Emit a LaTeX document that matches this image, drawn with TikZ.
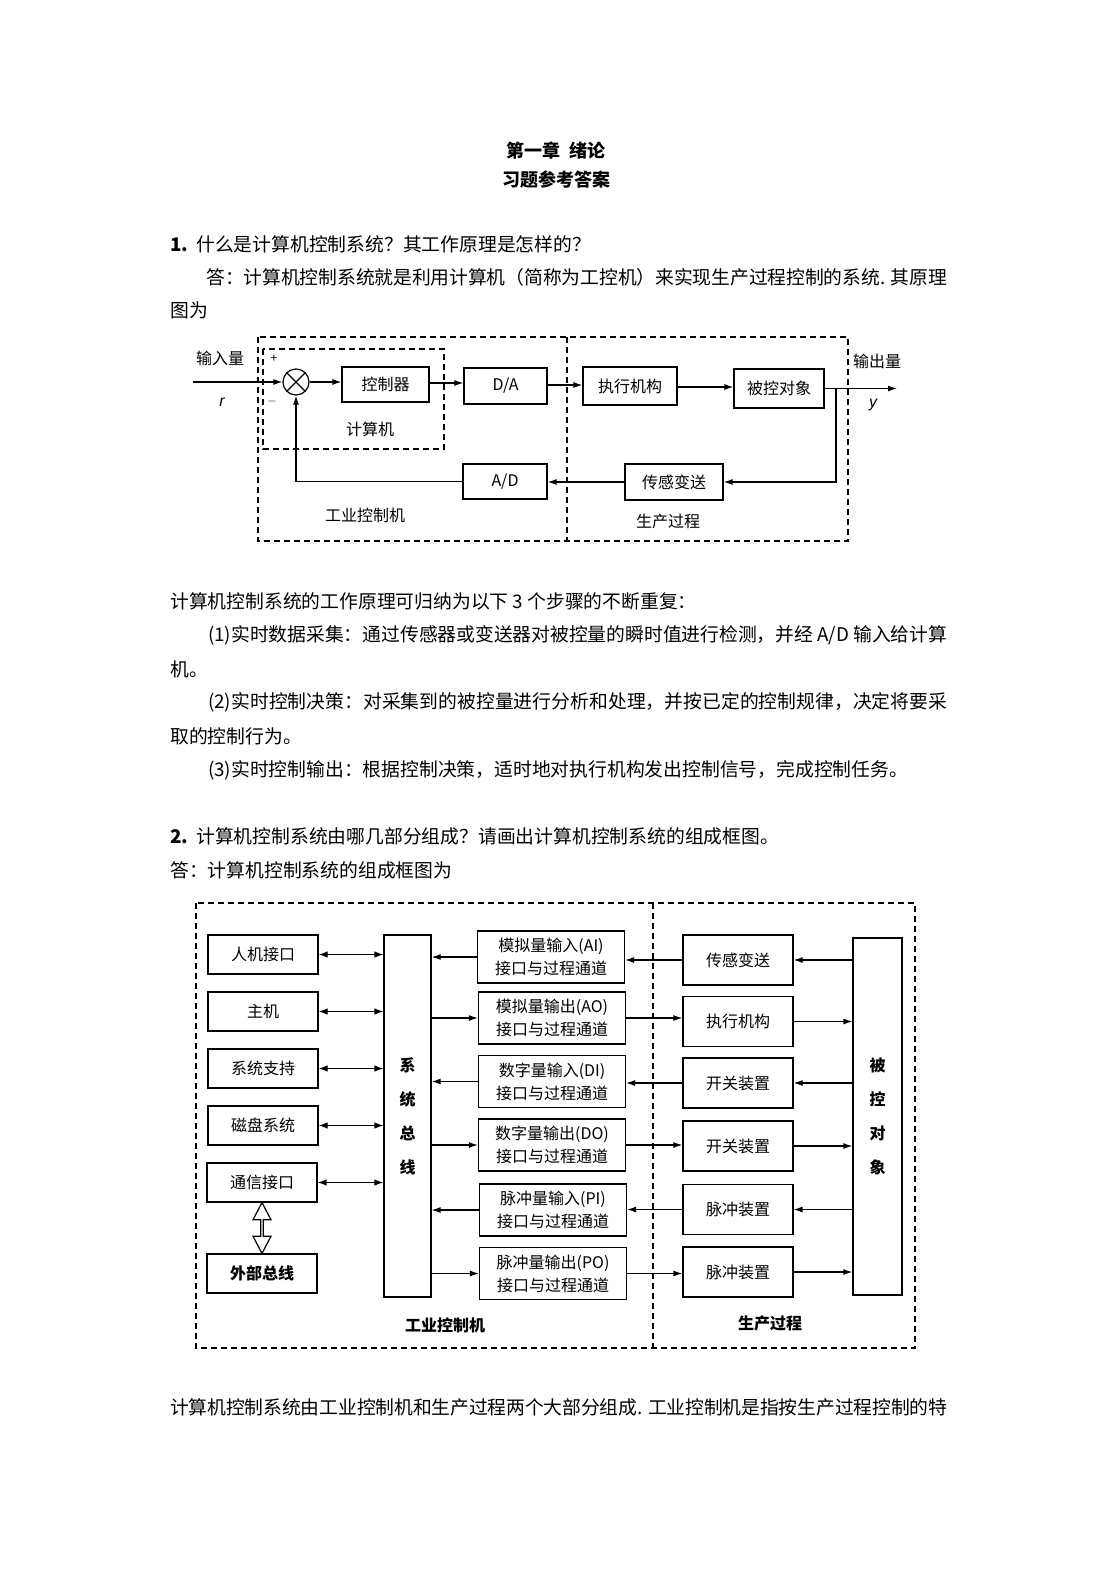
\documentclass[tikz,border=0pt]{standalone}
\usepackage{fontspec}
\setmainfont{Noto Sans CJK SC}
\newfontfamily\lat{Liberation Sans}
\usetikzlibrary{arrows.meta,shapes.arrows,calc}
\XeTeXlinebreaklocale "zh"
\XeTeXlinebreakskip=0pt plus 3pt minus 1pt
\tikzset{
 ln/.style={line width=1.2pt},
 arr/.style={ln, -{Latex[length=9pt,width=6pt]}},
 darr/.style={ln, {Latex[length=9pt,width=6.5pt]}-{Latex[length=9pt,width=6.5pt]}},
 dsh/.style={line width=1.2pt, dash pattern=on 6pt off 4pt},
 blk/.style={draw, line width=1.2pt, inner sep=0pt, font=\fontsize{16}{23}\selectfont, align=center},
 lbl/.style={inner sep=0pt, font=\fontsize{16}{19}\selectfont},
 blbl/.style={inner sep=0pt, font=\bfseries\fontsize{16}{19}\selectfont},
 body/.style={anchor=west, inner sep=0pt, font=\fontsize{18.8}{22}\selectfont},
 jbody/.style={body, text width=#1, align=justify},
}
\newcommand\jtxt[1]{\noindent\parfillskip=0pt\relax #1\par}
\begin{document}
\begin{tikzpicture}[x=1pt,y=-1pt]
\fill[white] (0,0) rectangle (1116,1579);
\path[use as bounding box] (0,0) rectangle (1116,1579);

% ---- headings and text ----
\node[inner sep=0pt, font=\bfseries\fontsize{18}{22}\selectfont] (t1) at (556,151) {第一章\hspace{0.5em}绪论};
\node[inner sep=0pt, font=\bfseries\fontsize{18}{22}\selectfont] (t2) at (556,180) {习题参考答案};
\node[body] (q1) at (170,244) {\textbf{1.}\hspace{8pt}什么是计算机控制系统？其工作原理是怎样的？};
\node[jbody=741pt] (a1) at (206,277) {\jtxt{答：计算机控制系统就是利用计算机（简称为工控机）来实现生产过程控制的系统. 其原理}};
\node[body] (a1b) at (170,310) {图为};
\node[body] (p0) at (170,601) {计算机控制系统的工作原理可归纳为以下 3 个步骤的不断重复：};
\node[jbody=739pt] (p1) at (208,635) {\jtxt{(1)实时数据采集：通过传感器或变送器对被控量的瞬时值进行检测，并经 A/D 输入给计算}};
\node[body] (p1b) at (170,669) {机。};
\node[jbody=739pt] (p2) at (208,702) {\jtxt{(2)实时控制决策：对采集到的被控量进行分析和处理，并按已定的控制规律，决定将要采}};
\node[body] (p2b) at (170,736) {取的控制行为。};
\node[body] (p3) at (208,770) {(3)实时控制输出：根据控制决策，适时地对执行机构发出控制信号，完成控制任务。};
\node[body] (q2) at (170,836) {\textbf{2.}\hspace{8pt}计算机控制系统由哪几部分组成？请画出计算机控制系统的组成框图。};
\node[body] (a2) at (170,870) {答：计算机控制系统的组成框图为};
\node[jbody=777pt] (last) at (170,1407) {\jtxt{计算机控制系统由工业控制机和生产过程两个大部分组成. 工业控制机是指按生产过程控制的特}};

% ---- diagram 1 ----
\draw[dsh] (258,337) rectangle (848,541);
\draw[dsh] (263,349) rectangle (444,449);
\draw[dsh] (567,337) -- (567,541);

\node[draw, circle, ln, minimum size=26pt, inner sep=0pt] (sum) at (296,382) {};
\draw[ln] (sum.45) -- (sum.225) (sum.135) -- (sum.-45);
\node[blk, minimum width=87pt, minimum height=35pt] (ctrl) at (385.5,384.5) {控制器};
\node[blk, minimum width=83pt, minimum height=36pt] (da) at (505.5,386) {D/A};
\node[blk, minimum width=94pt, minimum height=38pt] (act) at (630,386) {执行机构};
\node[blk, minimum width=90pt, minimum height=39pt] (plant) at (779,388.5) {被控对象};
\node[blk, minimum width=98pt, minimum height=36pt] (sens) at (674,482) {传感变送};
\node[blk, minimum width=84pt, minimum height=35pt] (ad) at (505,481.5) {A/D};

\coordinate (in) at (193,382);
\coordinate (out) at (897,388.5);
\coordinate (fb) at (836,388.5);
\draw[arr] (in) -- (sum.west);
\draw[arr] (sum.east) -- (sum.east -| ctrl.west);
\draw[arr] (ctrl.east |- 0,383) -- (da.west |- 0,383);
\draw[arr] (da.east |- 0,385) -- (act.west |- 0,385);
\draw[arr] (act.east |- 0,387) -- (plant.west |- 0,387);
\draw[arr] (plant.east) -- (out);
\draw[arr] (fb) |- (sens.east);
\draw[arr] (sens.west) -- (sens.west -| ad.east);
\draw[arr] (ad.west) -| (sum.south);

\node[lbl] (inlbl) at (220,358) {输入量};
\node[inner sep=0pt, font=\lat\itshape\fontsize{16}{19}\selectfont] (rlbl) at (222,402) {r};
\node[inner sep=0pt, font=\fontsize{12}{14}\selectfont] (plus) at (274,359) {+};
\node[inner sep=0pt, font=\fontsize{12}{14}\selectfont] (minus) at (272,401) {$-$};
\node[lbl] (outlbl) at (877,361) {输出量};
\node[inner sep=0pt, font=\lat\itshape\fontsize{16}{19}\selectfont] (ylbl) at (873,405) {y};
\node[lbl] (complbl) at (370,429) {计算机};
\node[lbl] (ipclbl) at (365,515) {工业控制机};
\node[lbl] (proclbl) at (668,521) {生产过程};

% ---- diagram 2 ----
\draw[dsh] (196,903) rectangle (915,1348);
\draw[dsh] (653,903) -- (653,1348);

\node[blk, minimum width=110pt, minimum height=39pt] (l1) at (263,954.5) {人机接口};
\node[blk, minimum width=110pt, minimum height=39pt] (l2) at (263,1011.5) {主机};
\node[blk, minimum width=110pt, minimum height=39pt] (l3) at (263,1068.5) {系统支持};
\node[blk, minimum width=110pt, minimum height=39pt] (l4) at (263,1125.5) {磁盘系统};
\node[blk, minimum width=110pt, minimum height=39pt] (l5) at (262,1182.5) {通信接口};
\node[blk, minimum width=110pt, minimum height=39pt, font=\bfseries\fontsize{16}{19}\selectfont] (ext) at (262,1273.5) {外部总线};
\node[draw, ln, double arrow, rotate=90, inner sep=0pt, minimum height=51pt, minimum width=18pt,
      double arrow head extend=4pt, double arrow tip angle=55] (dbl) at ($(l5.south)!0.5!(ext.north)$) {};

\node[blk, minimum width=47pt, minimum height=362pt, font=\bfseries\fontsize{16}{34}\selectfont] (bus) at (407.5,1116) {系\\统\\总\\线};

\node[blk, minimum width=147pt, minimum height=52pt] (i1) at (551,957) {模拟量输入(AI)\\接口与过程通道};
\node[blk, minimum width=147pt, minimum height=52pt] (i2) at (552,1018) {模拟量输出(AO)\\接口与过程通道};
\node[blk, minimum width=147pt, minimum height=52pt] (i3) at (552,1081.5) {数字量输入(DI)\\接口与过程通道};
\node[blk, minimum width=147pt, minimum height=52pt] (i4) at (552,1145) {数字量输出(DO)\\接口与过程通道};
\node[blk, minimum width=147pt, minimum height=52pt] (i5) at (553,1210) {脉冲量输入(PI)\\接口与过程通道};
\node[blk, minimum width=147pt, minimum height=52pt] (i6) at (553,1273.5) {脉冲量输出(PO)\\接口与过程通道};

\node[blk, minimum width=110pt, minimum height=50pt] (r1) at (738,960) {传感变送};
\node[blk, minimum width=110pt, minimum height=50pt] (r2) at (738,1021.5) {执行机构};
\node[blk, minimum width=110pt, minimum height=50pt] (r3) at (738,1083) {开关装置};
\node[blk, minimum width=110pt, minimum height=50pt] (r4) at (738,1146) {开关装置};
\node[blk, minimum width=110pt, minimum height=50pt] (r5) at (738,1209.5) {脉冲装置};
\node[blk, minimum width=110pt, minimum height=50pt] (r6) at (738,1272) {脉冲装置};

\node[blk, minimum width=49pt, minimum height=357pt, font=\bfseries\fontsize{16}{34}\selectfont] (plant2) at (877.5,1116.5) {被\\控\\对\\象};

\foreach \n in {l1,l2,l3,l4,l5} \draw[darr] (\n.east) -- (\n.east -| bus.west);

\draw[arr] (i1.west) -- (i1.west -| bus.east);
\draw[arr] (bus.east |- i2.west) -- (i2.west);
\draw[arr] (i3.west) -- (i3.west -| bus.east);
\draw[arr] (bus.east |- i4.west) -- (i4.west);
\draw[arr] (i5.west) -- (i5.west -| bus.east);
\draw[arr] (bus.east |- i6.west) -- (i6.west);

\draw[arr] (r1.west) -- (r1.west -| i1.east);
\draw[arr] (i2.east) -- (i2.east -| r2.west);
\draw[arr] (r3.west) -- (r3.west -| i3.east);
\draw[arr] (i4.east) -- (i4.east -| r4.west);
\draw[arr] (r5.west) -- (r5.west -| i5.east);
\draw[arr] (i6.east) -- (i6.east -| r6.west);

\draw[arr] (plant2.west |- r1.east) -- (r1.east);
\draw[arr] (r2.east) -- (r2.east -| plant2.west);
\draw[arr] (plant2.west |- r3.east) -- (r3.east);
\draw[arr] (r4.east) -- (r4.east -| plant2.west);
\draw[arr] (plant2.west |- r5.east) -- (r5.east);
\draw[arr] (r6.east) -- (r6.east -| plant2.west);

\node[blbl] (ipc2) at (445,1325) {工业控制机};
\node[blbl] (proc2) at (770,1323) {生产过程};
\end{tikzpicture}
\end{document}
